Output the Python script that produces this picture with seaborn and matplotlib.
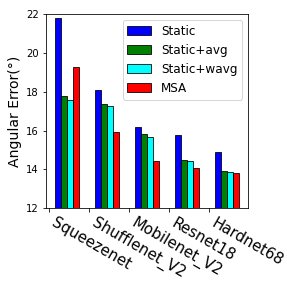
import numpy as np
import pandas as pd
import matplotlib
matplotlib.use("Agg")
import matplotlib.pyplot as plt
import seaborn as sns

models = ["Squeezenet", "Shufflenet_V2", "Mobilenet_V2", "Resnet18", "Hardnet68"]
methods = ["Static", "Static+avg", "Static+wavg", "MSA"]
static = [21.78, 18.07, 16.17, 15.76, 14.88]
static_avg = [17.80, 17.35, 15.81, 14.47, 13.90]
static_wavg = [17.56, 17.25, 15.67, 14.42, 13.85]
msa = [19.26, 15.91, 14.42, 14.06, 13.80]
colors = ["blue", "green", "cyan", "red"]
yticks = [12, 14, 16, 18, 20, 22]

df = pd.DataFrame({
    "model": models * 4,
    "method": sum([[m] * 5 for m in methods], []),
    "value": static + static_avg + static_wavg + msa,
})

plt.rcParams['font.family'] = ['DejaVu Sans']

fig = plt.figure(figsize=(287 / 72, 284 / 72), dpi=72)
ax = fig.add_axes([0.159, 0.2665, 0.706, 0.6845])

sns.barplot(data=df, x="model", y="value", hue="method", order=models,
            hue_order=methods, palette=colors, width=0.6, gap=0,
            edgecolor="black", linewidth=0.8, errorbar=None, saturation=1,
            ax=ax)

ax.set_ylim(12, 22)
ax.set_yticks(yticks)
ax.tick_params(axis="y", labelsize=10)
ax.set_xticks(np.arange(len(models)) - 0.45)
ax.set_xticklabels(models, rotation=-30, ha="left", fontsize=15)
ax.set_xlim(-0.53, 4.53)
ax.set_xlabel("")
ax.set_ylabel("Angular Error(°)", fontsize=14)

ax.legend(loc="upper right", fontsize=12, title=None, frameon=True)

fig.savefig("out.png", dpi=72)
